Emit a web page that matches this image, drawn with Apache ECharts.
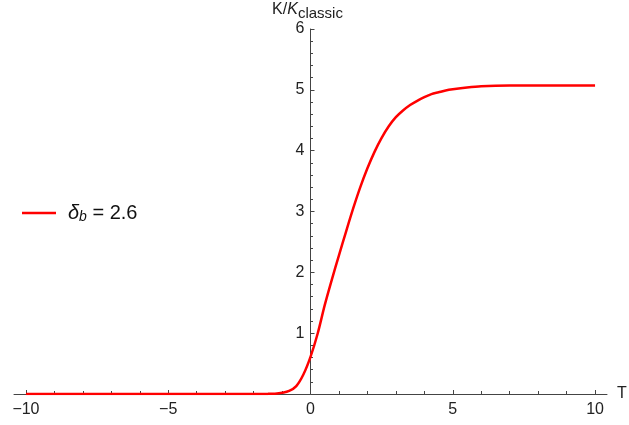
<!DOCTYPE html>
<html>
<head>
<meta charset="utf-8">
<script src="https://cdn.jsdelivr.net/npm/echarts@6/dist/echarts.min.js"></script>
<style>
  html, body { margin: 0; padding: 0; background: #fff; }
  #chart { width: 629px; height: 425px; }
</style>
</head>
<body>
<div id="chart"></div>
<script>
// values
const tValues = [-10, -8, -6, -4, -3, -2, -1.5, -1.25, -1, -0.75, -0.5, -0.25, 0, 0.25, 0.5, 0.75, 1,
  1.25, 1.5, 1.75, 2, 2.25, 2.5, 2.75, 3, 3.25, 3.5, 3.75, 4, 4.25, 4.5, 4.75, 5, 5.5, 6, 7, 8, 9, 10];
const kValues = [0, 0, 0, 0, 0, 0, 0.002, 0.006, 0.02, 0.05, 0.13, 0.32, 0.61, 0.99, 1.46, 1.88, 2.28,
  2.67, 3.05, 3.40, 3.71, 3.98, 4.21, 4.40, 4.55, 4.66, 4.75, 4.82, 4.88, 4.93, 4.96, 4.99, 5.01, 5.04, 5.06, 5.07, 5.07, 5.07, 5.07];
const xMajorTicks = [-10, -5, 0, 5, 10];
const xMinorTicks = [-9, -8, -7, -6, -4, -3, -2, -1, 1, 2, 3, 4, 6, 7, 8, 9];
const xTickLabels = ['\u221210', '\u22125', '0', '5', '10'];

const xMin = -10.42, xMax = 10.42;
const gridLeft = 14, gridRight = 22;
const labelFont = { fontFamily: 'Liberation Sans, Arial, sans-serif', fontSize: 16, color: '#222' };
const axisColor = '#444';

const chart = echarts.init(document.getElementById('chart'));
// y axis sits at T = 0, so shift it right from the grid's left edge
const plotWidth = 629 - gridLeft - gridRight;
const yShift = plotWidth * (0 - xMin) / (xMax - xMin);

chart.setOption({
  animation: false,
  grid: { left: gridLeft, right: gridRight, top: 29, bottom: 31, outerBoundsMode: 'none' },
  legend: {
    left: 22,
    top: 203,
    padding: 0,
    orient: 'vertical',
    itemWidth: 34,
    itemHeight: 14,
    icon: 'path://M0,6 L34,6 L34,8.5 L0,8.5 Z',
    textStyle: {
      padding: [0, 0, 0, 7],
      rich: {
        d: { fontFamily: 'Liberation Sans, Arial', fontSize: 20, fontStyle: 'italic', color: '#111' },
        s: { fontFamily: 'Liberation Sans, Arial', fontSize: 14, fontStyle: 'italic', color: '#111', padding: [9, 0, 0, 0] },
        n: { fontFamily: 'Liberation Sans, Arial', fontSize: 20, color: '#111' }
      }
    },
    formatter: () => '{d|\u03b4}{s|b}{n| = 2.6}'
  },
  xAxis: [
    {
      type: 'value',
      min: xMin,
      max: xMax,
      name: 'T',
      nameLocation: 'end',
      nameGap: 10,
      nameTextStyle: labelFont,
      splitLine: { show: false },
      axisLine: { onZero: false, lineStyle: { color: axisColor, width: 1 } },
      axisTick: { inside: true, length: 4, customValues: xMajorTicks, lineStyle: { color: axisColor } },
      axisLabel: {
        customValues: xMajorTicks,
        margin: 8,
        ...labelFont,
        formatter: v => xTickLabels[xMajorTicks.indexOf(Math.round(v))]
      }
    },
    {
      type: 'value',
      position: 'bottom',
      min: xMin,
      max: xMax,
      splitLine: { show: false },
      axisLine: { show: false, onZero: false },
      axisLabel: { show: false },
      axisTick: { show: true, inside: true, length: 3, customValues: xMinorTicks, lineStyle: { color: axisColor } }
    }
  ],
  yAxis: {
    type: 'value',
    min: 0,
    max: 6,
    interval: 1,
    offset: -yShift,
    name: '{k|K/}{ki|K}{c|classic}',
    nameLocation: 'end',
    nameGap: 5,
    nameTextStyle: {
      padding: [0, 6, 0, 0],
      rich: {
        k: { fontFamily: 'Liberation Sans, Arial', fontSize: 16, color: '#222' },
        ki: { fontFamily: 'Liberation Sans, Arial', fontSize: 16, fontStyle: 'italic', color: '#222' },
        c: { fontFamily: 'Liberation Sans, Arial', fontSize: 15, color: '#222', padding: [9, 0, 0, 0] }
      }
    },
    splitLine: { show: false },
    axisLine: { onZero: false, lineStyle: { color: axisColor, width: 1 } },
    axisTick: { inside: true, length: 4, lineStyle: { color: axisColor } },
    minorTick: { show: true, splitNumber: 5, length: 2.5, lineStyle: { color: axisColor } },
    axisLabel: {
      margin: 6,
      ...labelFont,
      formatter: v => (v === 0 ? '' : String(v))
    }
  },
  series: [
    {
      name: 'delta',
      type: 'line',
      smooth: 0.3,
      symbol: 'none',
      lineStyle: { color: '#ff0000', width: 2.5 },
      itemStyle: { color: '#ff0000' },
      data: tValues.map((t, i) => [t, kValues[i]])
    }
  ]
});
</script>
</body>
</html>
